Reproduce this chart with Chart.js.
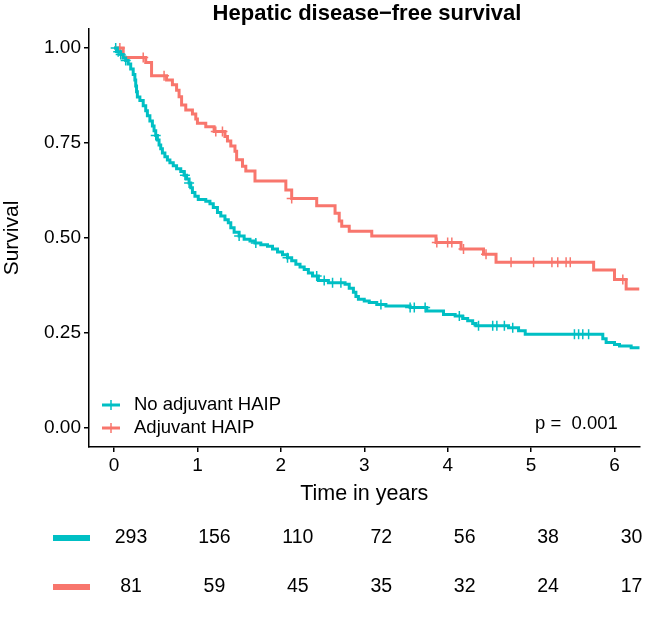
<!DOCTYPE html>
<html>
<head>
<meta charset="utf-8">
<script src="https://cdn.jsdelivr.net/npm/chart.js@4"></script>
<style>
  html, body { margin: 0; padding: 0; background: #fff; }
  #wrap { width: 646px; height: 638px; }
</style>
</head>
<body>
<div id="wrap"><canvas id="km" width="646" height="638"></canvas></div>
<script>
// Kaplan-Meier steps: time (years) of each drop and survival after it
const noHaipTime = [0, 0.04, 0.08, 0.11, 0.14, 0.17, 0.20, 0.23, 0.25, 0.26, 0.27, 0.28, 0.31, 0.35, 0.38, 0.40,
  0.43, 0.46, 0.48, 0.50, 0.52, 0.54, 0.56, 0.58, 0.61, 0.64, 0.67, 0.71, 0.75, 0.80, 0.84, 0.87, 0.90, 0.92,
  0.94, 0.97, 1.01, 1.10, 1.15, 1.19, 1.24, 1.28, 1.33, 1.37, 1.40, 1.44, 1.50, 1.56, 1.63, 1.69, 1.76, 1.84,
  1.90, 1.96, 2.02, 2.08, 2.13, 2.18, 2.23, 2.28, 2.33, 2.38, 2.45, 2.57, 2.77, 2.82, 2.87, 2.90, 2.93, 3.00,
  3.06, 3.15, 3.26, 3.55, 3.75, 3.95, 4.09, 4.18, 4.24, 4.30, 4.34, 4.73, 4.85, 4.93, 5.86, 5.90, 6.00, 6.06,
  6.20, 6.30];
const noHaipSurv = [1.0, 0.990, 0.983, 0.974, 0.967, 0.958, 0.945, 0.930, 0.916, 0.900, 0.885, 0.871, 0.862,
  0.848, 0.835, 0.822, 0.808, 0.795, 0.782, 0.770, 0.758, 0.745, 0.735, 0.724, 0.714, 0.705, 0.698, 0.690,
  0.682, 0.675, 0.665, 0.655, 0.645, 0.632, 0.620, 0.610, 0.601, 0.597, 0.590, 0.580, 0.567, 0.558, 0.548,
  0.540, 0.527, 0.515, 0.505, 0.497, 0.492, 0.487, 0.482, 0.478, 0.471, 0.463, 0.456, 0.448, 0.440, 0.431,
  0.424, 0.417, 0.408, 0.400, 0.388, 0.382, 0.378, 0.368, 0.357, 0.346, 0.339, 0.334, 0.330, 0.325, 0.321,
  0.317, 0.308, 0.299, 0.295, 0.288, 0.282, 0.275, 0.269, 0.264, 0.256, 0.247, 0.235, 0.225, 0.220, 0.216,
  0.211, 0.207];
const noHaipCensor = [0.02, 0.05, 0.08, 0.14, 0.50, 0.85, 0.90, 1.50, 1.70, 2.08, 2.43, 2.52, 2.62, 2.72, 3.20,
  3.55, 3.60, 3.73, 4.14, 4.37, 4.54, 4.59, 4.68, 4.78, 5.52, 5.57, 5.62, 5.69];

const haipTime = [0, 0.11, 0.38, 0.45, 0.63, 0.70, 0.75, 0.78, 0.81, 0.86, 0.94, 0.98, 1.00, 1.10, 1.20, 1.33,
  1.36, 1.40, 1.45, 1.47, 1.54, 1.58, 1.69, 2.06, 2.13, 2.43, 2.65, 2.70, 2.73, 2.82, 3.09, 3.86, 4.16, 4.43,
  4.58, 5.75, 6.00, 6.14, 6.30];
const haipSurv = [1.0, 0.975, 0.962, 0.927, 0.916, 0.903, 0.889, 0.872, 0.850, 0.837, 0.826, 0.813, 0.802,
  0.793, 0.780, 0.767, 0.755, 0.742, 0.728, 0.706, 0.689, 0.676, 0.650, 0.626, 0.604, 0.585, 0.565, 0.545,
  0.531, 0.518, 0.505, 0.488, 0.471, 0.457, 0.436, 0.416, 0.391, 0.366, 0.366];
const haipCensor = [0.07, 0.35, 0.60, 1.22, 1.30, 2.13, 3.87, 4.00, 4.05, 4.19, 4.46, 4.76, 5.03, 5.25, 5.32,
  5.42, 5.47, 6.10];

const xTicks = [0, 1, 2, 3, 4, 5, 6];
const yTicks = [0, 0.25, 0.5, 0.75, 1];
const riskTimes = [0, 1, 2, 3, 4, 5, 6];
const riskNoHaip = [293, 156, 110, 72, 56, 38, 30];
const riskHaip = [81, 59, 45, 35, 32, 24, 17];

const TEAL = '#00BFC4';
const RED = '#F8766D';
const FONT = '"Liberation Sans", Arial, sans-serif';

function survAt(times, surv, t) {
  let s = surv[0];
  for (let i = 0; i < times.length; i++) if (times[i] <= t) s = surv[i];
  return s;
}
const pts = (times, surv) => times.map((t, i) => ({ x: t, y: surv[i] }));
const censorPts = (c, times, surv) => c.map(t => ({ x: t, y: survAt(times, surv, t) }));

// title, in-panel legend, p value and number-at-risk table
const extras = {
  id: 'extras',
  afterDraw(chart) {
    const ctx = chart.ctx, xs = chart.scales.x;
    ctx.save();
    ctx.fillStyle = '#000';
    ctx.textBaseline = 'middle';
    ctx.textAlign = 'center';
    ctx.font = `bold 22px ${FONT}`;
    ctx.fillText('Hepatic disease\u2212free survival', 367, 14);

    // legend
    const items = [['No adjuvant HAIP', TEAL, 405], ['Adjuvant HAIP', RED, 428]];
    ctx.font = `18.5px ${FONT}`;
    ctx.textAlign = 'left';
    for (const [label, col, y] of items) {
      ctx.strokeStyle = col;
      ctx.lineWidth = 3;
      ctx.beginPath(); ctx.moveTo(102, y); ctx.lineTo(120, y); ctx.stroke();
      ctx.lineWidth = 1.5;
      ctx.beginPath(); ctx.moveTo(111, y - 5); ctx.lineTo(111, y + 5); ctx.stroke();
      ctx.fillStyle = '#000';
      ctx.fillText(label, 134, y);
    }
    ctx.font = `18.5px ${FONT}`;
    ctx.fillText('p =  0.001', 535, 424);

    // risk table
    const rows = [[riskNoHaip, TEAL, 538], [riskHaip, RED, 587]];
    ctx.font = `19.5px ${FONT}`;
    ctx.textAlign = 'center';
    for (const [vals, col, y] of rows) {
      ctx.fillStyle = col;
      ctx.fillRect(53, y - 3, 37, 6);
      ctx.fillStyle = '#000';
      riskTimes.forEach((t, i) => ctx.fillText(String(vals[i]), xs.getPixelForValue(t) + 17, y));
    }
    ctx.restore();
  }
};

new Chart(document.getElementById('km'), {
  type: 'line',
  data: {
    datasets: [
      { label: 'No adjuvant HAIP', data: pts(noHaipTime, noHaipSurv), borderColor: TEAL, borderWidth: 3,
        stepped: 'before', pointRadius: 0, fill: false },
      { label: 'Adjuvant HAIP', data: pts(haipTime, haipSurv), borderColor: RED, borderWidth: 3,
        stepped: 'before', pointRadius: 0, fill: false },
      { label: 'cens1', data: censorPts(noHaipCensor, noHaipTime, noHaipSurv), showLine: false,
        pointStyle: 'cross', pointRadius: 5, borderColor: TEAL, borderWidth: 1.5 },
      { label: 'cens2', data: censorPts(haipCensor, haipTime, haipSurv), showLine: false,
        pointStyle: 'cross', pointRadius: 5, borderColor: RED, borderWidth: 1.5 }
    ]
  },
  options: {
    responsive: false,
    animation: false,
    layout: { padding: { left: 0, top: 29, right: 3, bottom: 131 } },
    plugins: { legend: { display: false }, tooltip: { enabled: false } },
    scales: {
      x: {
        type: 'linear', min: -0.3, max: 6.3,
        afterBuildTicks: s => { s.ticks = xTicks.map(v => ({ value: v })); },
        afterFit: s => { s.height = 60; },
        grid: { drawOnChartArea: false, drawTicks: true, tickLength: 5, color: '#000', lineWidth: 1.5 },
        border: { display: true, color: '#000', width: 1.5 },
        ticks: { color: '#000', font: { family: FONT, size: 19 }, padding: 2, maxRotation: 0,
          callback: v => String(v) },
        title: { display: true, text: 'Time in years', color: '#000', font: { family: FONT, size: 21.5 },
          padding: { top: 0, bottom: 0 } }
      },
      y: {
        min: -0.05, max: 1.05,
        afterBuildTicks: s => { s.ticks = yTicks.map(v => ({ value: v })); },
        afterFit: s => { s.width = 89; },
        grid: { drawOnChartArea: false, drawTicks: true, tickLength: 5, color: '#000', lineWidth: 1.5 },
        border: { display: true, color: '#000', width: 1.5 },
        ticks: { color: '#000', font: { family: FONT, size: 19 }, padding: 3,
          callback: v => Number(v).toFixed(2) },
        title: { display: true, text: 'Survival', color: '#000', font: { family: FONT, size: 21 },
          padding: { top: 0, bottom: 0 } }
      }
    }
  },
  plugins: [extras]
});
</script>
</body>
</html>
